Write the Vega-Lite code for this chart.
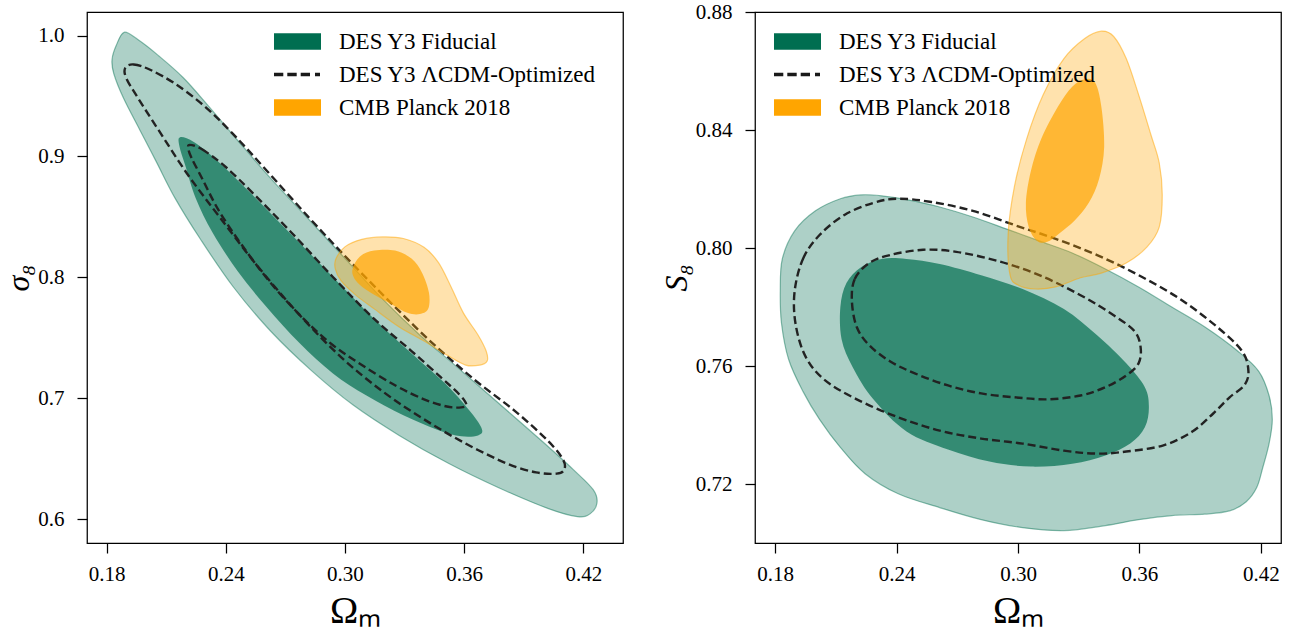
{
  "$schema": "https://vega.github.io/schema/vega-lite/v6.json",
  "background": "white",
  "padding": {"left": 2, "top": 0, "right": 5, "bottom": 0},
  "spacing": 35,
  "datasets": {
    "left": [
      {"s":"DES Y3 Fiducial","c":95,"i":0,"x":0.1888,"y":1.0027},{"s":"DES Y3 Fiducial","c":95,"i":1,"x":0.1957,"y":0.9967},{"s":"DES Y3 Fiducial","c":95,"i":2,"x":0.2061,"y":0.9834},{"s":"DES Y3 Fiducial","c":95,"i":3,"x":0.2186,"y":0.9651},{"s":"DES Y3 Fiducial","c":95,"i":4,"x":0.2312,"y":0.9418},{"s":"DES Y3 Fiducial","c":95,"i":5,"x":0.2458,"y":0.9136},{"s":"DES Y3 Fiducial","c":95,"i":6,"x":0.2625,"y":0.8820},{"s":"DES Y3 Fiducial","c":95,"i":7,"x":0.2813,"y":0.8487},{"s":"DES Y3 Fiducial","c":95,"i":8,"x":0.3001,"y":0.8155},{"s":"DES Y3 Fiducial","c":95,"i":9,"x":0.3189,"y":0.7822},{"s":"DES Y3 Fiducial","c":95,"i":10,"x":0.3377,"y":0.7523},{"s":"DES Y3 Fiducial","c":95,"i":11,"x":0.3565,"y":0.7257},{"s":"DES Y3 Fiducial","c":95,"i":12,"x":0.3774,"y":0.6958},{"s":"DES Y3 Fiducial","c":95,"i":13,"x":0.3983,"y":0.6658},{"s":"DES Y3 Fiducial","c":95,"i":14,"x":0.4150,"y":0.6409},{"s":"DES Y3 Fiducial","c":95,"i":15,"x":0.4250,"y":0.6243},{"s":"DES Y3 Fiducial","c":95,"i":16,"x":0.4269,"y":0.6133},{"s":"DES Y3 Fiducial","c":95,"i":17,"x":0.4234,"y":0.6043},{"s":"DES Y3 Fiducial","c":95,"i":18,"x":0.4171,"y":0.6020},{"s":"DES Y3 Fiducial","c":95,"i":19,"x":0.4025,"y":0.6086},{"s":"DES Y3 Fiducial","c":95,"i":20,"x":0.3774,"y":0.6259},{"s":"DES Y3 Fiducial","c":95,"i":21,"x":0.3523,"y":0.6459},{"s":"DES Y3 Fiducial","c":95,"i":22,"x":0.3273,"y":0.6692},{"s":"DES Y3 Fiducial","c":95,"i":23,"x":0.3043,"y":0.6941},{"s":"DES Y3 Fiducial","c":95,"i":24,"x":0.2834,"y":0.7224},{"s":"DES Y3 Fiducial","c":95,"i":25,"x":0.2625,"y":0.7556},{"s":"DES Y3 Fiducial","c":95,"i":26,"x":0.2437,"y":0.7922},{"s":"DES Y3 Fiducial","c":95,"i":27,"x":0.2270,"y":0.8321},{"s":"DES Y3 Fiducial","c":95,"i":28,"x":0.2145,"y":0.8653},{"s":"DES Y3 Fiducial","c":95,"i":29,"x":0.2051,"y":0.8953},{"s":"DES Y3 Fiducial","c":95,"i":30,"x":0.1967,"y":0.9219},{"s":"DES Y3 Fiducial","c":95,"i":31,"x":0.1884,"y":0.9485},{"s":"DES Y3 Fiducial","c":95,"i":32,"x":0.1836,"y":0.9684},{"s":"DES Y3 Fiducial","c":95,"i":33,"x":0.1827,"y":0.9800},{"s":"DES Y3 Fiducial","c":95,"i":34,"x":0.1848,"y":0.9917},
      {"s":"DES Y3 Fiducial","c":68,"i":0,"x":0.2170,"y":0.9159},{"s":"DES Y3 Fiducial","c":68,"i":1,"x":0.2239,"y":0.9119},{"s":"DES Y3 Fiducial","c":68,"i":2,"x":0.2354,"y":0.8969},{"s":"DES Y3 Fiducial","c":68,"i":3,"x":0.2521,"y":0.8703},{"s":"DES Y3 Fiducial","c":68,"i":4,"x":0.2730,"y":0.8354},{"s":"DES Y3 Fiducial","c":68,"i":5,"x":0.2938,"y":0.8005},{"s":"DES Y3 Fiducial","c":68,"i":6,"x":0.3147,"y":0.7656},{"s":"DES Y3 Fiducial","c":68,"i":7,"x":0.3356,"y":0.7340},{"s":"DES Y3 Fiducial","c":68,"i":8,"x":0.3523,"y":0.7091},{"s":"DES Y3 Fiducial","c":68,"i":9,"x":0.3638,"y":0.6875},{"s":"DES Y3 Fiducial","c":68,"i":10,"x":0.3690,"y":0.6742},{"s":"DES Y3 Fiducial","c":68,"i":11,"x":0.3670,"y":0.6692},{"s":"DES Y3 Fiducial","c":68,"i":12,"x":0.3586,"y":0.6685},{"s":"DES Y3 Fiducial","c":68,"i":13,"x":0.3461,"y":0.6742},{"s":"DES Y3 Fiducial","c":68,"i":14,"x":0.3294,"y":0.6858},{"s":"DES Y3 Fiducial","c":68,"i":15,"x":0.3106,"y":0.7024},{"s":"DES Y3 Fiducial","c":68,"i":16,"x":0.2938,"y":0.7207},{"s":"DES Y3 Fiducial","c":68,"i":17,"x":0.2771,"y":0.7456},{"s":"DES Y3 Fiducial","c":68,"i":18,"x":0.2604,"y":0.7756},{"s":"DES Y3 Fiducial","c":68,"i":19,"x":0.2458,"y":0.8055},{"s":"DES Y3 Fiducial","c":68,"i":20,"x":0.2333,"y":0.8371},{"s":"DES Y3 Fiducial","c":68,"i":21,"x":0.2249,"y":0.8653},{"s":"DES Y3 Fiducial","c":68,"i":22,"x":0.2197,"y":0.8919},{"s":"DES Y3 Fiducial","c":68,"i":23,"x":0.2166,"y":0.9086},
      {"s":"DES Y3 ΛCDM-Optimized","c":95,"i":0,"x":0.1894,"y":0.9734},{"s":"DES Y3 ΛCDM-Optimized","c":95,"i":1,"x":0.1936,"y":0.9761},{"s":"DES Y3 ΛCDM-Optimized","c":95,"i":2,"x":0.2019,"y":0.9717},{"s":"DES Y3 ΛCDM-Optimized","c":95,"i":3,"x":0.2145,"y":0.9601},{"s":"DES Y3 ΛCDM-Optimized","c":95,"i":4,"x":0.2291,"y":0.9418},{"s":"DES Y3 ΛCDM-Optimized","c":95,"i":5,"x":0.2437,"y":0.9185},{"s":"DES Y3 ΛCDM-Optimized","c":95,"i":6,"x":0.2604,"y":0.8886},{"s":"DES Y3 ΛCDM-Optimized","c":95,"i":7,"x":0.2813,"y":0.8504},{"s":"DES Y3 ΛCDM-Optimized","c":95,"i":8,"x":0.3022,"y":0.8138},{"s":"DES Y3 ΛCDM-Optimized","c":95,"i":9,"x":0.3231,"y":0.7789},{"s":"DES Y3 ΛCDM-Optimized","c":95,"i":10,"x":0.3440,"y":0.7456},{"s":"DES Y3 ΛCDM-Optimized","c":95,"i":11,"x":0.3649,"y":0.7157},{"s":"DES Y3 ΛCDM-Optimized","c":95,"i":12,"x":0.3858,"y":0.6891},{"s":"DES Y3 ΛCDM-Optimized","c":95,"i":13,"x":0.4025,"y":0.6642},{"s":"DES Y3 ΛCDM-Optimized","c":95,"i":14,"x":0.4098,"y":0.6492},{"s":"DES Y3 ΛCDM-Optimized","c":95,"i":15,"x":0.4104,"y":0.6409},{"s":"DES Y3 ΛCDM-Optimized","c":95,"i":16,"x":0.4066,"y":0.6376},{"s":"DES Y3 ΛCDM-Optimized","c":95,"i":17,"x":0.3962,"y":0.6386},{"s":"DES Y3 ΛCDM-Optimized","c":95,"i":18,"x":0.3816,"y":0.6459},{"s":"DES Y3 ΛCDM-Optimized","c":95,"i":19,"x":0.3607,"y":0.6625},{"s":"DES Y3 ΛCDM-Optimized","c":95,"i":20,"x":0.3398,"y":0.6825},{"s":"DES Y3 ΛCDM-Optimized","c":95,"i":21,"x":0.3189,"y":0.7057},{"s":"DES Y3 ΛCDM-Optimized","c":95,"i":22,"x":0.2980,"y":0.7340},{"s":"DES Y3 ΛCDM-Optimized","c":95,"i":23,"x":0.2771,"y":0.7689},{"s":"DES Y3 ΛCDM-Optimized","c":95,"i":24,"x":0.2562,"y":0.8088},{"s":"DES Y3 ΛCDM-Optimized","c":95,"i":25,"x":0.2374,"y":0.8487},{"s":"DES Y3 ΛCDM-Optimized","c":95,"i":26,"x":0.2207,"y":0.8853},{"s":"DES Y3 ΛCDM-Optimized","c":95,"i":27,"x":0.2061,"y":0.9219},{"s":"DES Y3 ΛCDM-Optimized","c":95,"i":28,"x":0.1957,"y":0.9485},{"s":"DES Y3 ΛCDM-Optimized","c":95,"i":29,"x":0.1898,"y":0.9651},
      {"s":"DES Y3 ΛCDM-Optimized","c":68,"i":0,"x":0.2218,"y":0.9096},{"s":"DES Y3 ΛCDM-Optimized","c":68,"i":1,"x":0.2280,"y":0.9059},{"s":"DES Y3 ΛCDM-Optimized","c":68,"i":2,"x":0.2395,"y":0.8919},{"s":"DES Y3 ΛCDM-Optimized","c":68,"i":3,"x":0.2542,"y":0.8687},{"s":"DES Y3 ΛCDM-Optimized","c":68,"i":4,"x":0.2730,"y":0.8371},{"s":"DES Y3 ΛCDM-Optimized","c":68,"i":5,"x":0.2938,"y":0.8005},{"s":"DES Y3 ΛCDM-Optimized","c":68,"i":6,"x":0.3147,"y":0.7656},{"s":"DES Y3 ΛCDM-Optimized","c":68,"i":7,"x":0.3335,"y":0.7390},{"s":"DES Y3 ΛCDM-Optimized","c":68,"i":8,"x":0.3482,"y":0.7174},{"s":"DES Y3 ΛCDM-Optimized","c":68,"i":9,"x":0.3576,"y":0.7031},{"s":"DES Y3 ΛCDM-Optimized","c":68,"i":10,"x":0.3611,"y":0.6948},{"s":"DES Y3 ΛCDM-Optimized","c":68,"i":11,"x":0.3586,"y":0.6924},{"s":"DES Y3 ΛCDM-Optimized","c":68,"i":12,"x":0.3513,"y":0.6931},{"s":"DES Y3 ΛCDM-Optimized","c":68,"i":13,"x":0.3398,"y":0.6991},{"s":"DES Y3 ΛCDM-Optimized","c":68,"i":14,"x":0.3252,"y":0.7107},{"s":"DES Y3 ΛCDM-Optimized","c":68,"i":15,"x":0.3085,"y":0.7274},{"s":"DES Y3 ΛCDM-Optimized","c":68,"i":16,"x":0.2938,"y":0.7440},{"s":"DES Y3 ΛCDM-Optimized","c":68,"i":17,"x":0.2792,"y":0.7656},{"s":"DES Y3 ΛCDM-Optimized","c":68,"i":18,"x":0.2625,"y":0.7955},{"s":"DES Y3 ΛCDM-Optimized","c":68,"i":19,"x":0.2479,"y":0.8271},{"s":"DES Y3 ΛCDM-Optimized","c":68,"i":20,"x":0.2364,"y":0.8554},{"s":"DES Y3 ΛCDM-Optimized","c":68,"i":21,"x":0.2280,"y":0.8820},{"s":"DES Y3 ΛCDM-Optimized","c":68,"i":22,"x":0.2228,"y":0.8986},{"s":"DES Y3 ΛCDM-Optimized","c":68,"i":23,"x":0.2212,"y":0.9059},
      {"s":"CMB Planck 2018","c":95,"i":0,"x":0.2955,"y":0.8155},{"s":"CMB Planck 2018","c":95,"i":1,"x":0.3001,"y":0.8254},{"s":"CMB Planck 2018","c":95,"i":2,"x":0.3085,"y":0.8314},{"s":"CMB Planck 2018","c":95,"i":3,"x":0.3189,"y":0.8334},{"s":"CMB Planck 2018","c":95,"i":4,"x":0.3294,"y":0.8321},{"s":"CMB Planck 2018","c":95,"i":5,"x":0.3398,"y":0.8248},{"s":"CMB Planck 2018","c":95,"i":6,"x":0.3471,"y":0.8121},{"s":"CMB Planck 2018","c":95,"i":7,"x":0.3534,"y":0.7922},{"s":"CMB Planck 2018","c":95,"i":8,"x":0.3596,"y":0.7706},{"s":"CMB Planck 2018","c":95,"i":9,"x":0.3670,"y":0.7523},{"s":"CMB Planck 2018","c":95,"i":10,"x":0.3711,"y":0.7390},{"s":"CMB Planck 2018","c":95,"i":11,"x":0.3716,"y":0.7307},{"s":"CMB Planck 2018","c":95,"i":12,"x":0.3680,"y":0.7274},{"s":"CMB Planck 2018","c":95,"i":13,"x":0.3607,"y":0.7274},{"s":"CMB Planck 2018","c":95,"i":14,"x":0.3513,"y":0.7357},{"s":"CMB Planck 2018","c":95,"i":15,"x":0.3398,"y":0.7473},{"s":"CMB Planck 2018","c":95,"i":16,"x":0.3273,"y":0.7589},{"s":"CMB Planck 2018","c":95,"i":17,"x":0.3147,"y":0.7739},{"s":"CMB Planck 2018","c":95,"i":18,"x":0.3053,"y":0.7855},{"s":"CMB Planck 2018","c":95,"i":19,"x":0.2980,"y":0.7972},{"s":"CMB Planck 2018","c":95,"i":20,"x":0.2951,"y":0.8072},
      {"s":"CMB Planck 2018","c":68,"i":0,"x":0.3039,"y":0.8072},{"s":"CMB Planck 2018","c":68,"i":1,"x":0.3074,"y":0.8171},{"s":"CMB Planck 2018","c":68,"i":2,"x":0.3147,"y":0.8221},{"s":"CMB Planck 2018","c":68,"i":3,"x":0.3252,"y":0.8221},{"s":"CMB Planck 2018","c":68,"i":4,"x":0.3335,"y":0.8155},{"s":"CMB Planck 2018","c":68,"i":5,"x":0.3388,"y":0.8038},{"s":"CMB Planck 2018","c":68,"i":6,"x":0.3423,"y":0.7872},{"s":"CMB Planck 2018","c":68,"i":7,"x":0.3419,"y":0.7739},{"s":"CMB Planck 2018","c":68,"i":8,"x":0.3377,"y":0.7696},{"s":"CMB Planck 2018","c":68,"i":9,"x":0.3314,"y":0.7706},{"s":"CMB Planck 2018","c":68,"i":10,"x":0.3241,"y":0.7772},{"s":"CMB Planck 2018","c":68,"i":11,"x":0.3147,"y":0.7855},{"s":"CMB Planck 2018","c":68,"i":12,"x":0.3074,"y":0.7939},{"s":"CMB Planck 2018","c":68,"i":13,"x":0.3043,"y":0.8005}
    ],
    "right": [
      {"s":"DES Y3 Fiducial","c":95,"i":0,"x":0.1835,"y":0.7963},{"s":"DES Y3 Fiducial","c":95,"i":1,"x":0.1896,"y":0.8058},{"s":"DES Y3 Fiducial","c":95,"i":2,"x":0.1999,"y":0.8126},{"s":"DES Y3 Fiducial","c":95,"i":3,"x":0.2122,"y":0.8167},{"s":"DES Y3 Fiducial","c":95,"i":4,"x":0.2224,"y":0.8180},{"s":"DES Y3 Fiducial","c":95,"i":5,"x":0.2326,"y":0.8177},{"s":"DES Y3 Fiducial","c":95,"i":6,"x":0.2449,"y":0.8164},{"s":"DES Y3 Fiducial","c":95,"i":7,"x":0.2613,"y":0.8139},{"s":"DES Y3 Fiducial","c":95,"i":8,"x":0.2777,"y":0.8105},{"s":"DES Y3 Fiducial","c":95,"i":9,"x":0.2941,"y":0.8065},{"s":"DES Y3 Fiducial","c":95,"i":10,"x":0.3105,"y":0.8024},{"s":"DES Y3 Fiducial","c":95,"i":11,"x":0.3268,"y":0.7983},{"s":"DES Y3 Fiducial","c":95,"i":12,"x":0.3432,"y":0.7929},{"s":"DES Y3 Fiducial","c":95,"i":13,"x":0.3596,"y":0.7868},{"s":"DES Y3 Fiducial","c":95,"i":14,"x":0.3760,"y":0.7800},{"s":"DES Y3 Fiducial","c":95,"i":15,"x":0.3924,"y":0.7732},{"s":"DES Y3 Fiducial","c":95,"i":16,"x":0.4087,"y":0.7650},{"s":"DES Y3 Fiducial","c":95,"i":17,"x":0.4190,"y":0.7582},{"s":"DES Y3 Fiducial","c":95,"i":18,"x":0.4241,"y":0.7500},{"s":"DES Y3 Fiducial","c":95,"i":19,"x":0.4257,"y":0.7419},{"s":"DES Y3 Fiducial","c":95,"i":20,"x":0.4241,"y":0.7337},{"s":"DES Y3 Fiducial","c":95,"i":21,"x":0.4210,"y":0.7256},{"s":"DES Y3 Fiducial","c":95,"i":22,"x":0.4180,"y":0.7188},{"s":"DES Y3 Fiducial","c":95,"i":23,"x":0.4128,"y":0.7140},{"s":"DES Y3 Fiducial","c":95,"i":24,"x":0.4046,"y":0.7109},{"s":"DES Y3 Fiducial","c":95,"i":25,"x":0.3924,"y":0.7098},{"s":"DES Y3 Fiducial","c":95,"i":26,"x":0.3760,"y":0.7093},{"s":"DES Y3 Fiducial","c":95,"i":27,"x":0.3596,"y":0.7079},{"s":"DES Y3 Fiducial","c":95,"i":28,"x":0.3432,"y":0.7059},{"s":"DES Y3 Fiducial","c":95,"i":29,"x":0.3227,"y":0.7042},{"s":"DES Y3 Fiducial","c":95,"i":30,"x":0.3023,"y":0.7052},{"s":"DES Y3 Fiducial","c":95,"i":31,"x":0.2818,"y":0.7079},{"s":"DES Y3 Fiducial","c":95,"i":32,"x":0.2613,"y":0.7120},{"s":"DES Y3 Fiducial","c":95,"i":33,"x":0.2408,"y":0.7167},{"s":"DES Y3 Fiducial","c":95,"i":34,"x":0.2244,"y":0.7235},{"s":"DES Y3 Fiducial","c":95,"i":35,"x":0.2122,"y":0.7324},{"s":"DES Y3 Fiducial","c":95,"i":36,"x":0.2019,"y":0.7419},{"s":"DES Y3 Fiducial","c":95,"i":37,"x":0.1937,"y":0.7514},{"s":"DES Y3 Fiducial","c":95,"i":38,"x":0.1866,"y":0.7623},{"s":"DES Y3 Fiducial","c":95,"i":39,"x":0.1831,"y":0.7745},{"s":"DES Y3 Fiducial","c":95,"i":40,"x":0.1825,"y":0.7854},
      {"s":"DES Y3 Fiducial","c":68,"i":0,"x":0.2122,"y":0.7800},{"s":"DES Y3 Fiducial","c":68,"i":1,"x":0.2152,"y":0.7881},{"s":"DES Y3 Fiducial","c":68,"i":2,"x":0.2224,"y":0.7935},{"s":"DES Y3 Fiducial","c":68,"i":3,"x":0.2326,"y":0.7963},{"s":"DES Y3 Fiducial","c":68,"i":4,"x":0.2449,"y":0.7963},{"s":"DES Y3 Fiducial","c":68,"i":5,"x":0.2613,"y":0.7946},{"s":"DES Y3 Fiducial","c":68,"i":6,"x":0.2818,"y":0.7908},{"s":"DES Y3 Fiducial","c":68,"i":7,"x":0.3023,"y":0.7861},{"s":"DES Y3 Fiducial","c":68,"i":8,"x":0.3227,"y":0.7793},{"s":"DES Y3 Fiducial","c":68,"i":9,"x":0.3391,"y":0.7704},{"s":"DES Y3 Fiducial","c":68,"i":10,"x":0.3535,"y":0.7609},{"s":"DES Y3 Fiducial","c":68,"i":11,"x":0.3627,"y":0.7528},{"s":"DES Y3 Fiducial","c":68,"i":12,"x":0.3647,"y":0.7460},{"s":"DES Y3 Fiducial","c":68,"i":13,"x":0.3627,"y":0.7392},{"s":"DES Y3 Fiducial","c":68,"i":14,"x":0.3555,"y":0.7337},{"s":"DES Y3 Fiducial","c":68,"i":15,"x":0.3432,"y":0.7297},{"s":"DES Y3 Fiducial","c":68,"i":16,"x":0.3268,"y":0.7269},{"s":"DES Y3 Fiducial","c":68,"i":17,"x":0.3064,"y":0.7259},{"s":"DES Y3 Fiducial","c":68,"i":18,"x":0.2859,"y":0.7276},{"s":"DES Y3 Fiducial","c":68,"i":19,"x":0.2654,"y":0.7317},{"s":"DES Y3 Fiducial","c":68,"i":20,"x":0.2449,"y":0.7378},{"s":"DES Y3 Fiducial","c":68,"i":21,"x":0.2285,"y":0.7487},{"s":"DES Y3 Fiducial","c":68,"i":22,"x":0.2183,"y":0.7596},{"s":"DES Y3 Fiducial","c":68,"i":23,"x":0.2128,"y":0.7691},
      {"s":"DES Y3 ΛCDM-Optimized","c":95,"i":0,"x":0.1896,"y":0.7854},{"s":"DES Y3 ΛCDM-Optimized","c":95,"i":1,"x":0.1937,"y":0.7963},{"s":"DES Y3 ΛCDM-Optimized","c":95,"i":2,"x":0.2019,"y":0.8044},{"s":"DES Y3 ΛCDM-Optimized","c":95,"i":3,"x":0.2142,"y":0.8112},{"s":"DES Y3 ΛCDM-Optimized","c":95,"i":4,"x":0.2285,"y":0.8153},{"s":"DES Y3 ΛCDM-Optimized","c":95,"i":5,"x":0.2408,"y":0.8167},{"s":"DES Y3 ΛCDM-Optimized","c":95,"i":6,"x":0.2572,"y":0.8156},{"s":"DES Y3 ΛCDM-Optimized","c":95,"i":7,"x":0.2777,"y":0.8126},{"s":"DES Y3 ΛCDM-Optimized","c":95,"i":8,"x":0.2982,"y":0.8078},{"s":"DES Y3 ΛCDM-Optimized","c":95,"i":9,"x":0.3186,"y":0.8031},{"s":"DES Y3 ΛCDM-Optimized","c":95,"i":10,"x":0.3391,"y":0.7976},{"s":"DES Y3 ΛCDM-Optimized","c":95,"i":11,"x":0.3596,"y":0.7908},{"s":"DES Y3 ΛCDM-Optimized","c":95,"i":12,"x":0.3801,"y":0.7827},{"s":"DES Y3 ΛCDM-Optimized","c":95,"i":13,"x":0.3985,"y":0.7732},{"s":"DES Y3 ΛCDM-Optimized","c":95,"i":14,"x":0.4108,"y":0.7650},{"s":"DES Y3 ΛCDM-Optimized","c":95,"i":15,"x":0.4139,"y":0.7582},{"s":"DES Y3 ΛCDM-Optimized","c":95,"i":16,"x":0.4118,"y":0.7534},{"s":"DES Y3 ΛCDM-Optimized","c":95,"i":17,"x":0.4046,"y":0.7494},{"s":"DES Y3 ΛCDM-Optimized","c":95,"i":18,"x":0.3965,"y":0.7439},{"s":"DES Y3 ΛCDM-Optimized","c":95,"i":19,"x":0.3862,"y":0.7378},{"s":"DES Y3 ΛCDM-Optimized","c":95,"i":20,"x":0.3719,"y":0.7331},{"s":"DES Y3 ΛCDM-Optimized","c":95,"i":21,"x":0.3535,"y":0.7310},{"s":"DES Y3 ΛCDM-Optimized","c":95,"i":22,"x":0.3391,"y":0.7303},{"s":"DES Y3 ΛCDM-Optimized","c":95,"i":23,"x":0.3227,"y":0.7313},{"s":"DES Y3 ΛCDM-Optimized","c":95,"i":24,"x":0.3023,"y":0.7337},{"s":"DES Y3 ΛCDM-Optimized","c":95,"i":25,"x":0.2818,"y":0.7354},{"s":"DES Y3 ΛCDM-Optimized","c":95,"i":26,"x":0.2613,"y":0.7381},{"s":"DES Y3 ΛCDM-Optimized","c":95,"i":27,"x":0.2408,"y":0.7426},{"s":"DES Y3 ΛCDM-Optimized","c":95,"i":28,"x":0.2203,"y":0.7487},{"s":"DES Y3 ΛCDM-Optimized","c":95,"i":29,"x":0.2040,"y":0.7555},{"s":"DES Y3 ΛCDM-Optimized","c":95,"i":30,"x":0.1947,"y":0.7636},{"s":"DES Y3 ΛCDM-Optimized","c":95,"i":31,"x":0.1900,"y":0.7745},
      {"s":"DES Y3 ΛCDM-Optimized","c":68,"i":0,"x":0.2179,"y":0.7820},{"s":"DES Y3 ΛCDM-Optimized","c":68,"i":1,"x":0.2193,"y":0.7895},{"s":"DES Y3 ΛCDM-Optimized","c":68,"i":2,"x":0.2265,"y":0.7949},{"s":"DES Y3 ΛCDM-Optimized","c":68,"i":3,"x":0.2367,"y":0.7976},{"s":"DES Y3 ΛCDM-Optimized","c":68,"i":4,"x":0.2531,"y":0.7994},{"s":"DES Y3 ΛCDM-Optimized","c":68,"i":5,"x":0.2695,"y":0.7987},{"s":"DES Y3 ΛCDM-Optimized","c":68,"i":6,"x":0.2900,"y":0.7956},{"s":"DES Y3 ΛCDM-Optimized","c":68,"i":7,"x":0.3105,"y":0.7908},{"s":"DES Y3 ΛCDM-Optimized","c":68,"i":8,"x":0.3309,"y":0.7840},{"s":"DES Y3 ΛCDM-Optimized","c":68,"i":9,"x":0.3473,"y":0.7772},{"s":"DES Y3 ΛCDM-Optimized","c":68,"i":10,"x":0.3576,"y":0.7718},{"s":"DES Y3 ΛCDM-Optimized","c":68,"i":11,"x":0.3606,"y":0.7664},{"s":"DES Y3 ΛCDM-Optimized","c":68,"i":12,"x":0.3596,"y":0.7609},{"s":"DES Y3 ΛCDM-Optimized","c":68,"i":13,"x":0.3535,"y":0.7568},{"s":"DES Y3 ΛCDM-Optimized","c":68,"i":14,"x":0.3432,"y":0.7528},{"s":"DES Y3 ΛCDM-Optimized","c":68,"i":15,"x":0.3309,"y":0.7500},{"s":"DES Y3 ΛCDM-Optimized","c":68,"i":16,"x":0.3145,"y":0.7487},{"s":"DES Y3 ΛCDM-Optimized","c":68,"i":17,"x":0.2982,"y":0.7494},{"s":"DES Y3 ΛCDM-Optimized","c":68,"i":18,"x":0.2818,"y":0.7507},{"s":"DES Y3 ΛCDM-Optimized","c":68,"i":19,"x":0.2654,"y":0.7534},{"s":"DES Y3 ΛCDM-Optimized","c":68,"i":20,"x":0.2490,"y":0.7575},{"s":"DES Y3 ΛCDM-Optimized","c":68,"i":21,"x":0.2367,"y":0.7616},{"s":"DES Y3 ΛCDM-Optimized","c":68,"i":22,"x":0.2265,"y":0.7670},{"s":"DES Y3 ΛCDM-Optimized","c":68,"i":23,"x":0.2203,"y":0.7732},
      {"s":"CMB Planck 2018","c":95,"i":0,"x":0.2961,"y":0.7908},{"s":"CMB Planck 2018","c":95,"i":1,"x":0.2951,"y":0.8044},{"s":"CMB Planck 2018","c":95,"i":2,"x":0.2982,"y":0.8207},{"s":"CMB Planck 2018","c":95,"i":3,"x":0.3043,"y":0.8370},{"s":"CMB Planck 2018","c":95,"i":4,"x":0.3125,"y":0.8520},{"s":"CMB Planck 2018","c":95,"i":5,"x":0.3227,"y":0.8642},{"s":"CMB Planck 2018","c":95,"i":6,"x":0.3330,"y":0.8710},{"s":"CMB Planck 2018","c":95,"i":7,"x":0.3412,"y":0.8735},{"s":"CMB Planck 2018","c":95,"i":8,"x":0.3473,"y":0.8717},{"s":"CMB Planck 2018","c":95,"i":9,"x":0.3535,"y":0.8642},{"s":"CMB Planck 2018","c":95,"i":10,"x":0.3596,"y":0.8520},{"s":"CMB Planck 2018","c":95,"i":11,"x":0.3657,"y":0.8384},{"s":"CMB Planck 2018","c":95,"i":12,"x":0.3698,"y":0.8289},{"s":"CMB Planck 2018","c":95,"i":13,"x":0.3713,"y":0.8180},{"s":"CMB Planck 2018","c":95,"i":14,"x":0.3698,"y":0.8071},{"s":"CMB Planck 2018","c":95,"i":15,"x":0.3637,"y":0.8003},{"s":"CMB Planck 2018","c":95,"i":16,"x":0.3535,"y":0.7949},{"s":"CMB Planck 2018","c":95,"i":17,"x":0.3412,"y":0.7915},{"s":"CMB Planck 2018","c":95,"i":18,"x":0.3309,"y":0.7899},{"s":"CMB Planck 2018","c":95,"i":19,"x":0.3186,"y":0.7868},{"s":"CMB Planck 2018","c":95,"i":20,"x":0.3084,"y":0.7861},{"s":"CMB Planck 2018","c":95,"i":21,"x":0.3002,"y":0.7874},
      {"s":"CMB Planck 2018","c":68,"i":0,"x":0.3094,"y":0.8024},{"s":"CMB Planck 2018","c":68,"i":1,"x":0.3053,"y":0.8071},{"s":"CMB Planck 2018","c":68,"i":2,"x":0.3039,"y":0.8153},{"s":"CMB Planck 2018","c":68,"i":3,"x":0.3064,"y":0.8262},{"s":"CMB Planck 2018","c":68,"i":4,"x":0.3115,"y":0.8370},{"s":"CMB Planck 2018","c":68,"i":5,"x":0.3197,"y":0.8479},{"s":"CMB Planck 2018","c":68,"i":6,"x":0.3268,"y":0.8547},{"s":"CMB Planck 2018","c":68,"i":7,"x":0.3330,"y":0.8572},{"s":"CMB Planck 2018","c":68,"i":8,"x":0.3381,"y":0.8561},{"s":"CMB Planck 2018","c":68,"i":9,"x":0.3412,"y":0.8479},{"s":"CMB Planck 2018","c":68,"i":10,"x":0.3426,"y":0.8343},{"s":"CMB Planck 2018","c":68,"i":11,"x":0.3401,"y":0.8235},{"s":"CMB Planck 2018","c":68,"i":12,"x":0.3350,"y":0.8153},{"s":"CMB Planck 2018","c":68,"i":13,"x":0.3279,"y":0.8092},{"s":"CMB Planck 2018","c":68,"i":14,"x":0.3207,"y":0.8051},{"s":"CMB Planck 2018","c":68,"i":15,"x":0.3145,"y":0.8021}
    ]
  },
  "hconcat": [
    {
      "width": 536, "height": 531,
      "data": {"name": "left"},
      "encoding": {
        "x": {"field": "x", "type": "quantitative", "scale": {"domain": [0.1701, 0.44], "zero": false, "nice": false},
              "axis": {"title": "Ωₘ", "values": [0.18, 0.24, 0.30, 0.36, 0.42], "format": ".2f", "labelPadding": 10, "titlePadding": 8}},
        "y": {"field": "y", "type": "quantitative", "scale": {"domain": [0.5802, 1.0195], "zero": false, "nice": false},
              "axis": {"title": "σ₈", "values": [0.6, 0.7, 0.8, 0.9, 1.0], "format": ".1f", "labelPadding": 13, "titlePadding": 2, "titleFontSize": 32, "titleFontStyle": "italic"}},
        "order": {"field": "i", "type": "quantitative"}
      },
      "layer": [
        {"transform": [{"filter": {"and": [{"field": "s", "equal": "DES Y3 Fiducial"}, {"field": "c", "equal": 95}]}}],
         "mark": {"type": "line", "interpolate": "cardinal-closed", "fill": "#006e50", "fillOpacity": 0.32, "stroke": "#006e50", "strokeOpacity": 0.45, "strokeWidth": 1.2}},
        {"transform": [{"filter": {"and": [{"field": "s", "equal": "DES Y3 Fiducial"}, {"field": "c", "equal": 68}]}}],
         "mark": {"type": "line", "interpolate": "cardinal-closed", "fill": "#006e50", "fillOpacity": 0.7, "stroke": "#006e50", "strokeOpacity": 0, "strokeWidth": 0}},
        {"transform": [{"filter": {"field": "s", "equal": "DES Y3 ΛCDM-Optimized"}}],
         "mark": {"type": "line", "interpolate": "cardinal-closed", "stroke": "#222222", "strokeOpacity": 1, "strokeWidth": 2.4, "strokeDash": [8, 4]},
         "encoding": {"detail": {"field": "c"}}},
        {"transform": [{"filter": {"and": [{"field": "s", "equal": "CMB Planck 2018"}, {"field": "c", "equal": 95}]}}],
         "mark": {"type": "line", "interpolate": "cardinal-closed", "fill": "#ffa500", "fillOpacity": 0.32, "stroke": "#ffa500", "strokeOpacity": 0.5, "strokeWidth": 1.2}},
        {"transform": [{"filter": {"and": [{"field": "s", "equal": "CMB Planck 2018"}, {"field": "c", "equal": 68}]}}],
         "mark": {"type": "line", "interpolate": "cardinal-closed", "fill": "#ffa500", "fillOpacity": 0.7, "stroke": "#ffa500", "strokeOpacity": 0, "strokeWidth": 0}},
        {"mark": {"type": "point", "filled": true, "opacity": 0, "size": 289},
         "encoding": {
           "fill": {"field": "s", "type": "nominal",
                    "scale": {"domain": ["DES Y3 Fiducial", "DES Y3 ΛCDM-Optimized", "CMB Planck 2018"], "range": ["#006e50", "#1a1a1a", "#ffa500"]},
                    "legend": {"title": null, "orient": "none", "legendX": 199, "legendY": 18}},
           "shape": {"field": "s", "type": "nominal",
                     "scale": {"domain": ["DES Y3 Fiducial", "DES Y3 ΛCDM-Optimized", "CMB Planck 2018"],
                               "range": ["M-2.765,-0.982H2.765V0.982H-2.765Z", "M-2.765,-0.194H-1.671V0.194H-2.765ZM-1.2,-0.194H-0.094V0.194H-1.2ZM0.376,-0.194H1.471V0.194H0.376ZM2.059,-0.194H2.647V0.194H2.059Z", "M-2.765,-0.982H2.765V0.982H-2.765Z"]},
                     "legend": {"title": null, "orient": "none", "legendX": 199, "legendY": 18}}
         }}
      ]
    },
    {
      "width": 526, "height": 531,
      "data": {"name": "right"},
      "encoding": {
        "x": {"field": "x", "type": "quantitative", "scale": {"domain": [0.17, 0.43], "zero": false, "nice": false},
              "axis": {"title": "Ωₘ", "values": [0.18, 0.24, 0.30, 0.36, 0.42], "format": ".2f", "labelPadding": 10, "titlePadding": 8}},
        "y": {"field": "y", "type": "quantitative", "scale": {"domain": [0.70, 0.88], "zero": false, "nice": false},
              "axis": {"title": "S₈", "values": [0.72, 0.76, 0.80, 0.84, 0.88], "format": ".2f", "labelPadding": 13, "titlePadding": 2, "titleFontSize": 32, "titleFontStyle": "italic"}},
        "order": {"field": "i", "type": "quantitative"}
      },
      "layer": [
        {"transform": [{"filter": {"and": [{"field": "s", "equal": "DES Y3 Fiducial"}, {"field": "c", "equal": 95}]}}],
         "mark": {"type": "line", "interpolate": "cardinal-closed", "fill": "#006e50", "fillOpacity": 0.32, "stroke": "#006e50", "strokeOpacity": 0.45, "strokeWidth": 1.2}},
        {"transform": [{"filter": {"and": [{"field": "s", "equal": "DES Y3 Fiducial"}, {"field": "c", "equal": 68}]}}],
         "mark": {"type": "line", "interpolate": "cardinal-closed", "fill": "#006e50", "fillOpacity": 0.7, "stroke": "#006e50", "strokeOpacity": 0, "strokeWidth": 0}},
        {"transform": [{"filter": {"field": "s", "equal": "DES Y3 ΛCDM-Optimized"}}],
         "mark": {"type": "line", "interpolate": "cardinal-closed", "stroke": "#222222", "strokeOpacity": 1, "strokeWidth": 2.4, "strokeDash": [8, 4]},
         "encoding": {"detail": {"field": "c"}}},
        {"transform": [{"filter": {"and": [{"field": "s", "equal": "CMB Planck 2018"}, {"field": "c", "equal": 95}]}}],
         "mark": {"type": "line", "interpolate": "cardinal-closed", "fill": "#ffa500", "fillOpacity": 0.32, "stroke": "#ffa500", "strokeOpacity": 0.5, "strokeWidth": 1.2}},
        {"transform": [{"filter": {"and": [{"field": "s", "equal": "CMB Planck 2018"}, {"field": "c", "equal": 68}]}}],
         "mark": {"type": "line", "interpolate": "cardinal-closed", "fill": "#ffa500", "fillOpacity": 0.7, "stroke": "#ffa500", "strokeOpacity": 0, "strokeWidth": 0}},
        {"mark": {"type": "point", "filled": true, "opacity": 0, "size": 289},
         "encoding": {
           "fill": {"field": "s", "type": "nominal",
                    "scale": {"domain": ["DES Y3 Fiducial", "DES Y3 ΛCDM-Optimized", "CMB Planck 2018"], "range": ["#006e50", "#1a1a1a", "#ffa500"]},
                    "legend": {"title": null, "orient": "none", "legendX": 31, "legendY": 18}},
           "shape": {"field": "s", "type": "nominal",
                     "scale": {"domain": ["DES Y3 Fiducial", "DES Y3 ΛCDM-Optimized", "CMB Planck 2018"],
                               "range": ["M-2.765,-0.982H2.765V0.982H-2.765Z", "M-2.765,-0.194H-1.671V0.194H-2.765ZM-1.2,-0.194H-0.094V0.194H-1.2ZM0.376,-0.194H1.471V0.194H0.376ZM2.059,-0.194H2.647V0.194H2.059Z", "M-2.765,-0.982H2.765V0.982H-2.765Z"]},
                     "legend": {"title": null, "orient": "none", "legendX": 31, "legendY": 18}}
         }}
      ]
    }
  ],
  "resolve": {
    "scale": {"x": "independent", "y": "independent", "fill": "independent", "shape": "independent"},
    "legend": {"fill": "independent", "shape": "independent"}
  },
  "config": {
    "font": "Liberation Serif",
    "view": {"stroke": "#000000", "strokeWidth": 1.25},
    "axis": {
      "domain": false, "grid": false,
      "ticks": true, "tickColor": "#000000", "tickSize": 10, "tickWidth": 1.25,
      "labelFont": "Liberation Serif", "labelFontSize": 21, "labelColor": "#000000",
      "labelFlush": false, "labelOverlap": false, "labelBound": false,
      "titleFont": "Liberation Serif", "titleFontSize": 38, "titleFontWeight": "normal", "titleColor": "#000000"
    },
    "legend": {
      "labelFont": "Liberation Serif", "labelFontSize": 23, "labelColor": "#000000",
      "labelOffset": 30, "symbolSize": 289, "symbolStrokeWidth": 0, "symbolOpacity": 1,
      "rowPadding": 9, "padding": 0, "direction": "vertical", "labelLimit": 400
    }
  }
}
